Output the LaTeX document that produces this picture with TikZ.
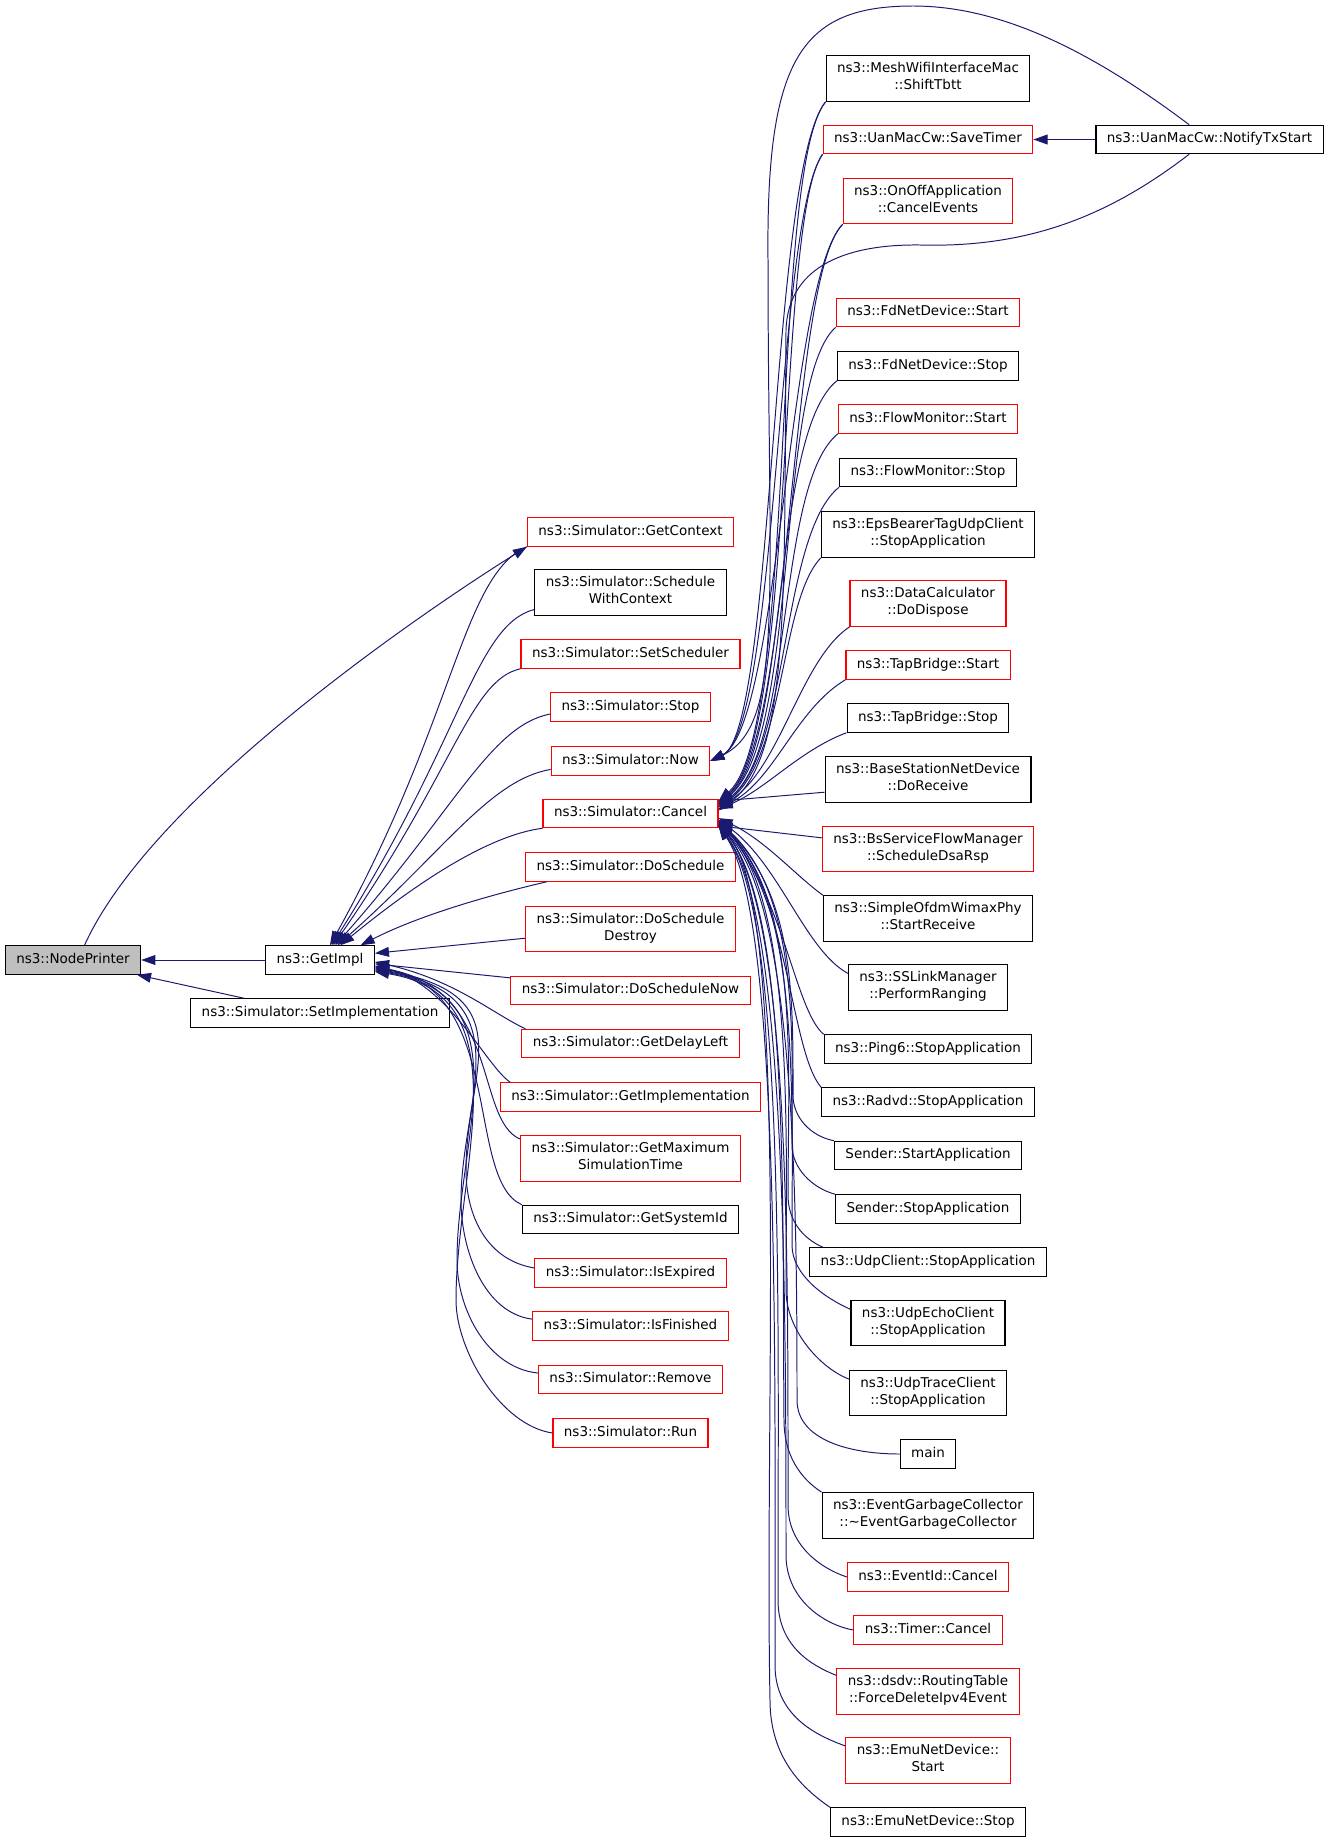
\documentclass[tikz,border=0pt]{standalone}
\usepackage{fontspec}
\setmainfont{DejaVu Sans}
\usetikzlibrary{arrows.meta}
\definecolor{callblue}{HTML}{191970}
\definecolor{rootgray}{HTML}{BFBFBF}

\begin{document}
\begin{tikzpicture}[x=0.25cm, y=-0.25cm]
\tikzstyle{every node}=[font=\fontsize{9.6}{12.1}\selectfont]
\tikzstyle{fn}=[draw=black, line width=0.8pt, inner xsep=7.8pt, inner ysep=2pt, minimum height=0.71cm, align=center, execute at begin node=\strut]
\tikzstyle{redfn}=[fn, draw=red]
\tikzstyle{tall}=[minimum height=1.14cm]
\tikzstyle{call}=[draw=callblue, line width=0.7pt, -{Triangle[length=10pt, width=7pt]}]

\useasboundingbox (0,0) rectangle (133.1,184.2);

% root and its direct callers
\node[fn, fill=rootgray] (printer) at (7.3, 96) {ns3::NodePrinter};
\node[fn] (getimpl) at (32, 96) {ns3::GetImpl};
\node[fn] (setimpl) at (32, 101.3) {ns3::Simulator::SetImplementation};

% callers of GetImpl
\node[redfn] (getcontext) at (63.05, 53.2) {ns3::Simulator::GetContext};
\node[fn, tall] (schedctx) at (63.05, 59.25) {ns3::Simulator::Schedule\\WithContext};
\node[redfn] (setsched) at (63.05, 65.4) {ns3::Simulator::SetScheduler};
\node[redfn] (simstop) at (63.05, 70.7) {ns3::Simulator::Stop};
\node[redfn] (simnow) at (63.05, 76.1) {ns3::Simulator::Now};
\node[redfn] (simcancel) at (63.05, 81.35) {ns3::Simulator::Cancel};
\node[redfn] (dosched) at (63.05, 86.7) {ns3::Simulator::DoSchedule};
\node[redfn, tall] (doschedd) at (63.05, 92.9) {ns3::Simulator::DoSchedule\\Destroy};
\node[redfn] (doschednow) at (63.05, 99.05) {ns3::Simulator::DoScheduleNow};
\node[redfn] (getdelay) at (63.05, 104.35) {ns3::Simulator::GetDelayLeft};
\node[redfn] (getimpln) at (63.05, 109.7) {ns3::Simulator::GetImplementation};
\node[redfn, tall] (getmax) at (63.05, 115.85) {ns3::Simulator::GetMaximum\\SimulationTime};
\node[fn] (sysid) at (63.05, 121.95) {ns3::Simulator::GetSystemId};
\node[redfn] (isexp) at (63.05, 127.3) {ns3::Simulator::IsExpired};
\node[redfn] (isfin) at (63.05, 132.6) {ns3::Simulator::IsFinished};
\node[redfn] (simremove) at (63.05, 137.95) {ns3::Simulator::Remove};
\node[redfn] (simrun) at (63.05, 143.3) {ns3::Simulator::Run};

% callers of Now and Cancel
\node[fn, tall] (shifttbtt) at (92.8, 7.85) {ns3::MeshWifiInterfaceMac\\::ShiftTbtt};
\node[redfn] (savetimer) at (92.8, 13.95) {ns3::UanMacCw::SaveTimer};
\node[fn] (notify) at (120.95, 13.95) {ns3::UanMacCw::NotifyTxStart};
\node[redfn, tall] (cancelev) at (92.8, 20.1) {ns3::OnOffApplication\\::CancelEvents};
\node[redfn] (fdstart) at (92.8, 31.25) {ns3::FdNetDevice::Start};
\node[fn] (fdstop) at (92.8, 36.6) {ns3::FdNetDevice::Stop};
\node[redfn] (fmstart) at (92.8, 41.9) {ns3::FlowMonitor::Start};
\node[fn] (fmstop) at (92.8, 47.25) {ns3::FlowMonitor::Stop};
\node[fn, tall] (epsbearer) at (92.8, 53.45) {ns3::EpsBearerTagUdpClient\\::StopApplication};
\node[redfn, tall] (datacalc) at (92.8, 60.35) {ns3::DataCalculator\\::DoDispose};
\node[redfn] (tapstart) at (92.8, 66.5) {ns3::TapBridge::Start};
\node[fn] (tapstop) at (92.8, 71.8) {ns3::TapBridge::Stop};
\node[fn, tall] (bsnetdev) at (92.8, 77.95) {ns3::BaseStationNetDevice\\::DoReceive};
\node[redfn, tall] (bsflow) at (92.8, 84.9) {ns3::BsServiceFlowManager\\::ScheduleDsaRsp};
\node[fn, tall] (ofdm) at (92.8, 91.85) {ns3::SimpleOfdmWimaxPhy\\::StartReceive};
\node[fn, tall] (sslink) at (92.8, 98.75) {ns3::SSLinkManager\\::PerformRanging};
\node[fn] (ping6) at (92.8, 104.9) {ns3::Ping6::StopApplication};
\node[fn] (radvd) at (92.8, 110.2) {ns3::Radvd::StopApplication};
\node[fn] (sendstart) at (92.8, 115.55) {Sender::StartApplication};
\node[fn] (sendstop) at (92.8, 120.9) {Sender::StopApplication};
\node[fn] (udpclient) at (92.8, 126.2) {ns3::UdpClient::StopApplication};
\node[fn, tall] (udpecho) at (92.8, 132.3) {ns3::UdpEchoClient\\::StopApplication};
\node[fn, tall] (udptrace) at (92.8, 139.3) {ns3::UdpTraceClient\\::StopApplication};
\node[fn] (mainfn) at (92.8, 145.4) {main};
\node[fn, tall] (garbage) at (92.8, 151.55) {ns3::EventGarbageCollector\\::\textasciitilde EventGarbageCollector};
\node[redfn] (eventid) at (92.8, 157.7) {ns3::EventId::Cancel};
\node[redfn] (timercancel) at (92.8, 163) {ns3::Timer::Cancel};
\node[redfn, tall] (dsdv) at (92.8, 169.15) {ns3::dsdv::RoutingTable\\::ForceDeleteIpv4Event};
\node[redfn, tall] (emustart) at (92.8, 176.05) {ns3::EmuNetDevice::\\Start};
\node[fn] (emustop) at (92.8, 182.2) {ns3::EmuNetDevice::Stop};

% into NodePrinter
\draw[call] (getimpl) -- (printer);
\draw[call] (setimpl.169) -- (printer.-13);
\draw[call] (printer.52) .. controls (15,80) and (41,62) .. (getcontext.south west);

% into GetImpl, from above
\draw[call] (getcontext.south west) .. controls (46.2,57.5) and (45.5,72) .. (getimpl.56);
\draw[call] (schedctx.190) .. controls (47.5,62.5) and (46.2,74) .. (getimpl.52);
\draw[call] (setsched.south west) .. controls (47,68) and (45.5,77) .. (getimpl.48);
\draw[call] (simstop.185) .. controls (49,72.6) and (45.5,81) .. (getimpl.44);
\draw[call] (simnow.186) .. controls (49,78) and (44.5,85) .. (getimpl.40);
\draw[call] (simcancel.south west) .. controls (49,83.5) and (42,88) .. (getimpl.36);
\draw[call] (dosched.190) .. controls (49,89.5) and (42,91.5) .. (getimpl.20);
\draw[call] (doschedd.185) -- (getimpl.7);
\draw[call] (doschednow.174) -- (getimpl.-4);

% into GetImpl, from below
\draw[call] (getdelay.172) .. controls (49.5,101.5) and (45.5,98) .. (getimpl.-2);
\draw[call] (getimpln.173) .. controls (48.5,106.5) and (45,98.5) .. (getimpl.-6);
\draw[call] (getmax.170) .. controls (47.5,112) and (50,99) .. (getimpl.-7);
\draw[call] (sysid.north west) .. controls (46.5,118) and (50.5,99) .. (getimpl.-8);
\draw[call] (isexp.177) .. controls (48.6,126) and (46.6,121.5) .. (46.6,117) .. controls (46.6,107) and (52.5,99.5) .. (getimpl.-9);
\draw[call] (isfin.176) .. controls (48.4,131.3) and (46.1,125) .. (46.1,120) .. controls (46.1,110) and (52.5,99.5) .. (getimpl.-10);
\draw[call] (simremove.176) .. controls (48.8,136.8) and (45.7,131) .. (45.7,126) .. controls (45.7,114) and (52.5,99.5) .. (getimpl.-11);
\draw[call] (simrun.west) .. controls (50,142.5) and (45.6,135) .. (45.6,130) .. controls (45.6,117) and (52.5,99.5) .. (getimpl.-12);

% into Now
\draw[call] (shifttbtt.south west) .. controls (77,17) and (77.5,73) .. (simnow.east);
\draw[call] (savetimer.south west) .. controls (77.6,22) and (77.8,72.8) .. (simnow.east);
\draw[call] (cancelev.south west) .. controls (78.8,28) and (78,72.6) .. (simnow.east);
\draw[call] (notify.144) .. controls (109,5) and (100,0.6) .. (91.3,0.6) .. controls (80,0.6) and (76.6,6) .. (76.8,26) .. controls (76.8,60) and (78.5,72.5) .. (simnow.east);

% NotifyTxStart
\draw[call] (notify) -- (savetimer);
\draw[call] (notify.216) .. controls (111,21.5) and (103,24.8) .. (92,24.5) .. controls (84,24.4) and (78.8,27) .. (78.6,33) .. controls (78.4,60) and (79,76) .. (simcancel.2);

% into Cancel, from above
\draw[call] (shifttbtt.south west) .. controls (77,17) and (79.8,73) .. (simcancel.8);
\draw[call] (savetimer.south west) .. controls (77.6,22) and (79.6,73.5) .. (simcancel.7);
\draw[call] (cancelev.south west) .. controls (78.8,28) and (79.4,74) .. (simcancel.7);
\draw[call] (fdstart.south west) .. controls (77.5,38) and (80,74) .. (simcancel.6);
\draw[call] (fdstop.south west) .. controls (77,43.5) and (79,74.5) .. (simcancel.6);
\draw[call] (fmstart.south west) .. controls (77.5,48.5) and (79.5,75) .. (simcancel.5);
\draw[call] (fmstop.south west) .. controls (78,53.5) and (79,75.5) .. (simcancel.5);
\draw[call] (epsbearer.south west) .. controls (78,60) and (78.5,76) .. (simcancel.4);
\draw[call] (datacalc.south west) .. controls (80,66) and (78,77) .. (simcancel.4);
\draw[call] (tapstart.south west) .. controls (79.5,71) and (77.5,78) .. (simcancel.3);
\draw[call] (tapstop.south west) .. controls (80,75) and (76.5,79) .. (simcancel.3);
\draw[call] (bsnetdev.187) -- (simcancel.8);

% into Cancel, from below
\draw[call] (bsflow.174) -- (simcancel.-8);
\draw[call] (ofdm.north west) .. controls (79.5,87.5) and (76.5,84) .. (simcancel.-3);
\draw[call] (sslink.170) .. controls (80.5,95) and (78,86.5) .. (simcancel.-4);
\draw[call] (ping6.north west) .. controls (79.5,101) and (78.5,90) .. (simcancel.-4);
\draw[call] (radvd.north west) .. controls (79,105) and (79,90) .. (simcancel.-5);
\draw[call] (sendstart.north west) .. controls (81,113.6) and (79.3,111.7) .. (79.3,109.5) .. controls (79.3,100) and (79.5,89.5) .. (simcancel.-5);
\draw[call] (sendstop.north west) .. controls (81.2,118.8) and (79.2,116.8) .. (79.2,114.5) .. controls (79.2,104) and (80,89.5) .. (simcancel.-5);
\draw[call] (udpclient.172) .. controls (80.2,123.8) and (78.8,122) .. (78.8,119.5) .. controls (78.8,107) and (80,90) .. (simcancel.-6);
\draw[call] (udpecho.170) .. controls (82.5,129.8) and (79.2,127.5) .. (79.2,124.5) .. controls (79.2,110) and (80,90) .. (simcancel.-6);
\draw[call] (udptrace.170) .. controls (82,136.8) and (78.6,133) .. (78.6,129) .. controls (78.6,114) and (79.5,90) .. (simcancel.-6);
\draw[call] (mainfn.west) .. controls (85,145.4) and (79.7,144) .. (79.7,140) .. controls (79.7,120) and (79.5,90.5) .. (simcancel.-7);
\draw[call] (garbage.north west) .. controls (80,147.8) and (78.4,145.5) .. (78.4,142) .. controls (78.2,120) and (79,91) .. (simcancel.-7);
\draw[call] (eventid.west) .. controls (82,156.8) and (78.8,154.5) .. (78.8,150.5) .. controls (78.8,125) and (79,91) .. (simcancel.-7);
\draw[call] (timercancel.west) .. controls (82.5,162.5) and (78.6,160) .. (78.6,155.5) .. controls (78.6,128) and (78.5,91) .. (simcancel.-8);
\draw[call] (dsdv.170) .. controls (81,166.5) and (77.8,164.5) .. (77.8,160) .. controls (77.8,130) and (78.5,91.5) .. (simcancel.-8);
\draw[call] (emustart.170) .. controls (81.5,173.5) and (77.5,171.5) .. (77.5,166.5) .. controls (77.5,135) and (78,91.5) .. (simcancel.-8);
\draw[call] (emustop.north west) .. controls (80.5,179) and (77,176) .. (77,170) .. controls (76.4,140) and (79,90) .. (simcancel.-8);

\end{tikzpicture}
\end{document}
